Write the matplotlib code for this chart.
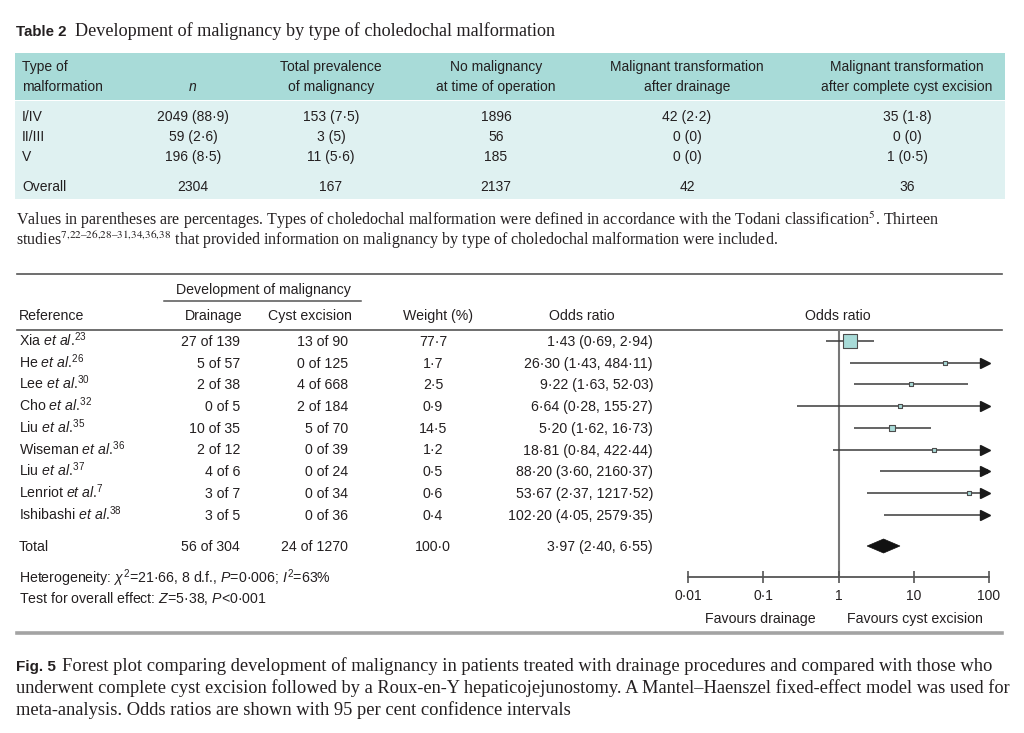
import matplotlib
matplotlib.use('Agg')
import matplotlib.pyplot as plt
from matplotlib.patches import Rectangle, Polygon
from matplotlib.transforms import offset_copy
from matplotlib.ticker import NullLocator

plt.rcParams['font.family'] = ['Liberation Sans', 'DejaVu Sans']
plt.rcParams['mathtext.fontset'] = 'custom'
plt.rcParams['mathtext.rm'] = 'Liberation Sans'
plt.rcParams['mathtext.it'] = 'Liberation Sans:italic'
plt.rcParams['mathtext.bf'] = 'Liberation Sans:bold'

INK = '#231f20'
TEAL_DARK = '#a8dbd8'
TEAL_LIGHT = '#dff1f1'
SERIF = 'Liberation Serif'

# --- Table 2 values ---
t2_types = ['I/IV', 'II/III', 'V']
t2_n = [2049, 59, 196]
t2_n_pct = [88.9, 2.6, 8.5]
t2_prev = [153, 3, 11]
t2_prev_pct = [7.5, 5, 5.6]
t2_nomal = [1896, 56, 185]
t2_drain = [42, 0, 0]
t2_drain_pct = [2.2, 0, 0]
t2_excis = [35, 0, 1]
t2_excis_pct = [1.8, 0, 0.5]
t2_overall = [2304, 167, 2137, 42, 36]

# --- forest plot values ---
studies = ['Xia', 'He', 'Lee', 'Cho', 'Liu', 'Wiseman', 'Liu', 'Lenriot', 'Ishibashi']
refs = [23, 26, 30, 32, 35, 36, 37, 7, 38]
drain_events = [27, 5, 2, 0, 10, 2, 4, 3, 3]
drain_total = [139, 57, 38, 5, 35, 12, 6, 7, 5]
cyst_events = [13, 0, 4, 2, 5, 0, 0, 0, 0]
cyst_total = [90, 125, 668, 184, 70, 39, 24, 34, 36]
weights = [77.7, 1.7, 2.5, 0.9, 14.5, 1.2, 0.5, 0.6, 0.4]
odds = [1.43, 26.30, 9.22, 6.64, 5.20, 18.81, 88.20, 53.67, 102.20]
ci_lo = [0.69, 1.43, 1.63, 0.28, 1.62, 0.84, 3.60, 2.37, 4.05]
ci_hi = [2.94, 484.11, 52.03, 155.27, 16.73, 422.44, 2160.37, 1217.52, 2579.35]
tot_drain = (56, 304)
tot_cyst = (24, 1270)
tot_weight = 100.0
tot_or, tot_lo, tot_hi = 3.97, 2.40, 6.55
het_chi2, het_df, het_p, het_i2 = 21.66, 8, 0.006, 63
z_val = 5.38

or_ticks = [0.01, 0.1, 1, 10, 100]
or_tick_labels = ['0·01', '0·1', '1', '10', '100']


def dot(v, fmt='{:g}'):
    return fmt.format(v).replace('.', '·')


W, H = 1024, 733
fig = plt.figure(figsize=(W / 100, H / 100), dpi=100)
bg = fig.add_axes([0, 0, 1, 1])
bg.set_xlim(0, W)
bg.set_ylim(H, 0)
bg.axis('off')


def txt(x, y, s, **kw):
    kw.setdefault('color', INK)
    kw.setdefault('fontsize', 10)
    kw.setdefault('va', 'baseline')
    return bg.text(x, y, s, **kw)


# ---------------- Table 2 ----------------
txt(16, 36, 'Table 2', fontweight='bold', fontsize=10.8)
txt(75, 36, 'Development of malignancy by type of choledochal malformation',
    family=SERIF, fontsize=13.1)

bg.add_patch(Rectangle((15, 53), 990, 47, fc=TEAL_DARK, ec='none'))
bg.add_patch(Rectangle((15, 101), 990, 98, fc=TEAL_LIGHT, ec='none'))

col_x = [193, 331, 496, 687, 907]
head1 = ['', 'Total prevalence', 'No malignancy', 'Malignant transformation',
         'Malignant transformation']
head2 = ['n', 'of malignancy', 'at time of operation', 'after drainage',
         'after complete cyst excision']
txt(22, 71, 'Type of')
txt(22, 91, 'malformation')
for i, x in enumerate(col_x):
    txt(x, 71, head1[i], ha='center')
    txt(x, 91, head2[i], ha='center', fontstyle='italic' if i == 0 else 'normal')

for i, typ in enumerate(t2_types):
    y = 121 + 20 * i
    cells = ['%d (%s)' % (t2_n[i], dot(t2_n_pct[i])),
             '%d (%s)' % (t2_prev[i], dot(t2_prev_pct[i])),
             '%d' % t2_nomal[i],
             '%d (%s)' % (t2_drain[i], dot(t2_drain_pct[i])),
             '%d (%s)' % (t2_excis[i], dot(t2_excis_pct[i]))]
    txt(22, y, typ)
    for x, c in zip(col_x, cells):
        txt(x, y, c, ha='center')
txt(22, 191, 'Overall')
for x, v in zip(col_x, t2_overall):
    txt(x, 191, str(v), ha='center')

txt(16, 225, 'Values in parentheses are percentages. Types of choledochal malformation were '
    'defined in accordance with the Todani classification$^{5}$. Thirteen',
    family=SERIF, fontsize=11.5, math_fontfamily='stix')
txt(16, 245, 'studies$^{7{,}22–26{,}28–31{,}34{,}36{,}38}$ that provided information on '
    'malignancy by type of choledochal malformation were included.',
    family=SERIF, fontsize=11.5, math_fontfamily='stix')

# ---------------- forest table text ----------------
LINE = '#555555'
bg.plot([17, 1002], [274, 274], color=LINE, lw=1.2)
txt(263, 294, 'Development of malignancy', ha='center', fontsize=10.2)
bg.plot([164, 361], [301, 301], color=LINE, lw=1.1)
txt(19, 320, 'Reference', fontsize=10.2)
txt(242, 320, 'Drainage', ha='right', fontsize=10.2)
txt(352, 320, 'Cyst excision', ha='right', fontsize=10.2)
txt(438, 320, 'Weight (%)', ha='center', fontsize=10.2)
txt(582, 320, 'Odds ratio', ha='center', fontsize=10.2)
txt(838, 320, 'Odds ratio', ha='center', fontsize=10.2)
bg.plot([17, 1002], [329.5, 329.5], color=LINE, lw=1.2)

row_y = [341 + 21.7 * i for i in range(len(studies))]
total_y = 546

for i, name in enumerate(studies):
    y = row_y[i] + 5
    txt(19, y, '%s $et\\ al$.$^{%d}$' % (name, refs[i]), fontsize=10.2)
    txt(240, y, '%d of %d' % (drain_events[i], drain_total[i]), ha='right', fontsize=10.2)
    txt(348, y, '%d of %d' % (cyst_events[i], cyst_total[i]), ha='right', fontsize=10.2)
    txt(433, y, dot(weights[i], '{:.1f}'), ha='center', fontsize=10.2)
    txt(653, y, '%s (%s, %s)' % (dot(odds[i], '{:.2f}'), dot(ci_lo[i], '{:.2f}'),
                                 dot(ci_hi[i], '{:.2f}')), ha='right', fontsize=10.2)

y = total_y + 5
txt(19, y, 'Total', fontsize=10.2)
txt(240, y, '%d of %d' % tot_drain, ha='right', fontsize=10.2)
txt(348, y, '%d of %d' % tot_cyst, ha='right', fontsize=10.2)
txt(433, y, dot(tot_weight, '{:.1f}'), ha='center', fontsize=10.2)
txt(653, y, '%s (%s, %s)' % (dot(tot_or, '{:.2f}'), dot(tot_lo, '{:.2f}'),
                             dot(tot_hi, '{:.2f}')), ha='right', fontsize=10.2)

txt(19, 583, 'Heterogeneity: $\\chi^2$=%s, %d d.f., $P$=%s; $I^2$=%d%%'
    % (dot(het_chi2), het_df, dot(het_p), het_i2), fontsize=10.2)
txt(19, 603, 'Test for overall effect: $Z$=%s, $P$<0·001' % dot(z_val), fontsize=10.2)

txt(760, 623, 'Favours drainage', ha='center', fontsize=10.2)
txt(915, 623, 'Favours cyst excision', ha='center', fontsize=10.2)

bg.plot([17, 1002], [633, 633], color='#a3a3a3', lw=2.6)

# ---------------- forest plot ----------------
x0, x1, ytop, ybot = 688, 989, 330, 577
fa = fig.add_axes([x0 / W, 1 - ybot / H, (x1 - x0) / W, (ybot - ytop) / H])
fa.set_xscale('log')
fa.set_xlim(0.01, 100)
fa.set_ylim(ybot, ytop)
fa.patch.set_visible(False)
for s in ['top', 'left', 'right']:
    fa.spines[s].set_visible(False)
fa.spines['bottom'].set_bounds(0.01, 100)
fa.spines['bottom'].set_color(LINE)
fa.spines['bottom'].set_linewidth(1.3)
fa.set_xticks(or_ticks, or_tick_labels)
fa.xaxis.set_minor_locator(NullLocator())
fa.set_yticks([])
fa.tick_params(axis='x', direction='inout', length=9, width=1.2, color=LINE,
               pad=4, labelsize=10, labelcolor=INK)

fa.axvline(1, color='#777777', lw=1.5, zorder=1)

arrow_tr = offset_copy(fa.transData, fig=fig, x=-4.5, y=0, units='dots')
for i in range(len(studies)):
    y = row_y[i]
    fa.plot([ci_lo[i], min(ci_hi[i], 100)], [y, y], color='#3a3a3a', lw=1.1,
            solid_capstyle='butt', clip_on=False, zorder=2)
    if odds[i] <= 100:
        side = max(3.5, 1.5 * weights[i] ** 0.5) * 0.72
        fa.scatter([odds[i]], [y], s=side ** 2, marker='s', fc=TEAL_DARK,
                   ec='#4d4d4d', lw=0.8, zorder=3, clip_on=False)
    if ci_hi[i] > 100:
        fa.plot([100], [y], marker='>', ms=6.5, color='#1a1a1a', lw=0,
                transform=arrow_tr, clip_on=False, zorder=4)

fa.add_patch(Polygon([(tot_lo, total_y), (tot_or, total_y - 7), (tot_hi, total_y),
                      (tot_or, total_y + 7)], closed=True, fc='#111111', ec='#111111',
                     lw=0.5, zorder=3))

# ---------------- caption ----------------
txt(16, 671, 'Fig. 5', fontweight='bold', fontsize=11)
txt(62, 671, 'Forest plot comparing development of malignancy in patients treated with '
    'drainage procedures and compared with those who', family=SERIF, fontsize=13.35)
txt(16, 693, 'underwent complete cyst excision followed by a Roux-en-Y hepaticojejunostomy. '
    'A Mantel–Haenszel fixed-effect model was used for', family=SERIF, fontsize=13.25)
txt(16, 715, 'meta-analysis. Odds ratios are shown with 95 per cent confidence intervals',
    family=SERIF, fontsize=13.3)

fig.savefig('out.png', dpi=100)
